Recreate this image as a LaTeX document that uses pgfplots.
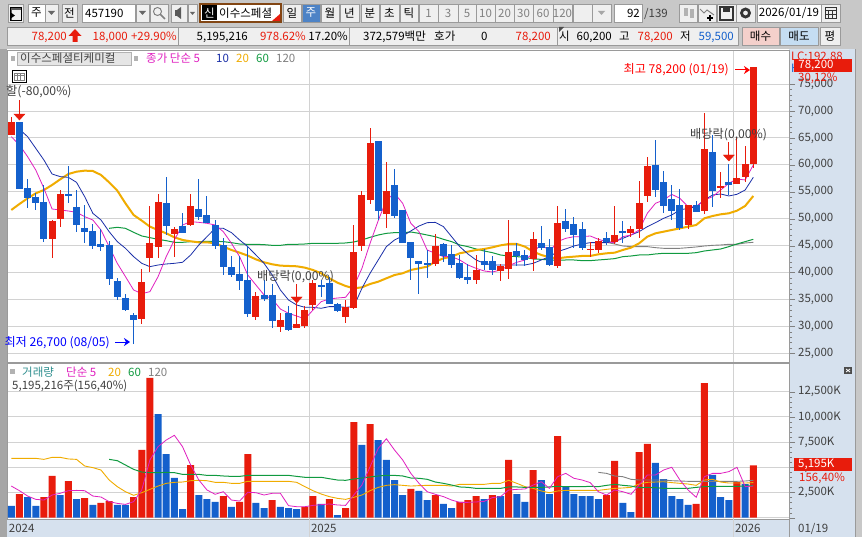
\documentclass[border=0pt]{standalone}
\usepackage{fontspec}
\setmainfont{Noto Sans CJK KR}
\usepackage{pgfplots}
\usepackage{pgfplotstable}
\pgfplotsset{compat=1.18}
\usetikzlibrary{arrows.meta}
\definecolor{cred}{HTML}{E81C0C}
\definecolor{cblue}{HTML}{1460CC}
\definecolor{cmag}{HTML}{E020C0}
\definecolor{cnavy}{HTML}{1A2FA8}
\definecolor{cgold}{HTML}{F0AC00}
\definecolor{cgreen}{HTML}{109A40}
\definecolor{cgray}{HTML}{808080}
\definecolor{pan}{HTML}{D6E1EE}
\definecolor{outer}{HTML}{C8C8C8}
\definecolor{gridc}{HTML}{D2D2D2}
\definecolor{btnb}{HTML}{9A9A9A}
\definecolor{btnf}{HTML}{EFEFEF}
\definecolor{tick}{HTML}{404040}
\newcommand{\ui}{\fontsize{11.5}{13}\selectfont}
\newcommand{\uia}{\fontsize{12.2}{13}\selectfont}
\newcommand{\Btn}[7]{\filldraw[fill=#5,draw=btnb,line width=.8pt] (#1,#3) rectangle (#2,#4);
  \node[font=\ui,text=#7,inner sep=0pt] at ({(#1+#2)/2},{(#3+#4)/2}) {#6};}
\newcommand{\T}[4]{\node[anchor=base west,inner sep=0pt,font=\ui,text=#3] at (#1,#2) {#4};}
\newcommand{\TR}[4]{\node[anchor=base east,inner sep=0pt,font=\ui,text=#3] at (#1,#2) {#4};}
\newcommand{\TA}[4]{\node[anchor=base west,inner sep=0pt,font=\uia,text=#3] at (#1,#2) {#4};}
\newcommand{\TAR}[4]{\node[anchor=base east,inner sep=0pt,font=\uia,text=#3] at (#1,#2) {#4};}

\pgfplotstableread{
i top bot hi lo
0 67960 65540 68820 65540
5 49575 46230 49760 42700
6 54590 49945 55330 48460
16 38245 31375 40660 30445
17 45490 42700 52360 40100
18 53100 44745 54590 42700
20 48090 47160 48460 42890
22 52360 48830 54590 48645
30 35645 31745 36390 31190
33 31190 29890 32490 28960
35 30445 29700 37875 29700
36 33045 30075 33790 29700
37 38060 33975 38615 33045
41 33600 31745 34900 30630
42 43815 33415 48830 33230
43 54400 44930 55145 44000
44 64060 53475 66845 52730
46 55145 50875 60530 48275
52 44930 41590 47160 41215
57 40475 38615 43260 37875
60 41215 40290 41590 38430
61 43815 40660 49760 38800
64 46230 42520 47530 40290
67 49200 41215 52360 40845
71 44375 44250 45675 42890
72 45860 44190 46415 43630
74 46975 45675 52360 45300
76 48090 47345 48645 46600
77 52915 48090 57000 46415
78 59785 54215 61460 53100
83 52545 48830 52545 48090
85 62945 51430 69630 50875
87 56075 55700 58675 53845
89 57560 56445 65170 56445
90 60160 57745 63500 56815
91 78200 60200 78200 59500
}\redc
\pgfplotstableread{
i top bot hi lo
1 67960 55520 67960 55520
2 55700 53845 57370 52050
3 54030 52920 54835 51615
4 53100 46230 56260 45675
7 54525 54215 59785 52920
8 52175 48830 55330 47530
9 48275 47530 52545 45490
10 47715 44930 49015 44375
11 45300 44745 48090 44000
12 45115 38800 45860 37690
13 38430 35460 38990 34900
14 35275 33045 36020 32860
15 32120 31190 32490 26700
19 52920 48645 57745 46975
21 48645 47345 51060 47345
23 51800 50315 57370 49760
24 50685 49200 54215 49200
25 48830 44930 49760 44375
26 45115 41030 46415 39545
27 41030 39545 43075 39175
28 39730 38430 43075 36760
29 38615 32300 44930 31745
31 35830 35090 38615 34715
32 35830 31000 37875 29700
34 32490 29330 33790 29145
38 37690 37315 38615 35460
39 38060 34160 39175 34160
40 34160 32860 34345 32675
45 64430 51430 64430 49760
47 56260 50500 59230 50130
48 51615 45490 51615 45490
49 45675 42700 45675 38615
50 42145 41590 42145 36020
51 41775 41400 44190 38990
53 45300 43075 45490 41960
54 43445 41400 45115 40845
55 41775 38990 43260 38800
56 39175 38615 41590 37875
58 42145 41400 44375 40475
59 42145 40475 43075 39545
62 44000 43075 45490 41215
63 43260 42330 44190 41215
65 45490 44560 48645 44190
66 44745 41400 46230 41215
68 49575 48090 51800 47530
69 49015 46975 50315 44560
70 48090 44560 49390 44190
73 46415 45675 47530 45115
75 47715 47345 49575 45490
79 59970 55330 64615 54030
80 56815 52360 58860 51060
81 53660 51430 56260 49760
82 52545 48275 55515 47900
84 52545 51245 53285 51245
86 62385 55145 65545 52175
88 56815 56260 60160 54400
}\bluec

\pgfplotsset{candle/.style={draw=none,mark=none,forget plot,
  error bars/.cd,y dir=plus,y explicit,error mark=none,
  error bar style={color=#1}}}
\begin{document}
\begin{tikzpicture}
\path[use as bounding box] (0pt,0pt) rectangle (862pt,-537pt);
\begin{scope}[x=1pt,y=-1pt]
\fill[outer] (0,0) rectangle (862,537);
\fill[gray!70] (0,49) rectangle (7,537);
% toolbar row 1
\Btn{8}{23}{4}{22}{btnf}{}{black}
\fill[gray!70!black] (10,7) rectangle (21,10); \fill[gray!70!black] (10,7) rectangle (12,20); \fill[black] (10,12) -- (15,15.5) -- (10,19) -- cycle; \draw (10,7) rectangle (21,20);
\Btn{28}{45}{4}{22}{white}{주}{black}
\Btn{45}{58}{4}{22}{btnf}{}{black}\fill[gray!80!black] (48,11)--(55,11)--(51.5,15)--cycle;
\Btn{62}{77}{4}{22}{btnf}{전}{black}
\Btn{82}{135}{4}{22}{white}{}{black}\T{85}{18}{black}{457190}
\Btn{136}{149}{4}{22}{btnf}{}{black}\fill[gray!80!black] (139,11)--(146,11)--(142.5,15)--cycle;
\Btn{150}{168}{4}{22}{btnf}{}{black}\draw[gray,line width=1pt] (157.5,11.5) circle (4); \draw[gray,line width=1.6pt] (160.5,14.5)--(165,19);
\Btn{171}{187}{4}{22}{btnf}{}{black}\fill[gray!70!black] (175,10) rectangle (178,16); \fill[gray!70!black] (177,10)--(181,7)--(181,19)--(177,16)--cycle;
\Btn{188}{197}{4}{22}{btnf}{}{black}\fill[gray!80!black] (190,12)--(195,12)--(192.5,15)--cycle;
\filldraw[fill=white,draw={rgb,255:red,130;green,70;blue,20},line width=1.8pt] (200,4) rectangle (281,22);
\fill[black] (202,5.5) rectangle (217,20.5);
\node[font=\ui,text=white,inner sep=0pt] at (209.5,13) {신};
\T{219}{18}{black}{이수스페셜}
\fill[cred] (280,14)--(280,21)--(272,21)--cycle;
\Btn{283}{301}{4}{22}{btnf}{일}{black}
\Btn{302}{320}{4}{22}{{rgb,255:red,77;green,131;blue,198}}{주}{white}
\Btn{321}{339}{4}{22}{btnf}{월}{black}
\Btn{340}{359}{4}{22}{btnf}{년}{black}
\Btn{361}{379}{4}{22}{btnf}{분}{black}
\Btn{380}{399}{4}{22}{btnf}{초}{black}
\Btn{400}{418}{4}{22}{btnf}{틱}{black}
\Btn{419}{438}{4}{22}{btnf}{1}{gray}
\Btn{438}{458}{4}{22}{btnf}{3}{gray}
\Btn{458}{476}{4}{22}{btnf}{5}{gray}
\Btn{476}{495}{4}{22}{btnf}{10}{gray}
\Btn{495}{514}{4}{22}{btnf}{20}{gray}
\Btn{514}{533}{4}{22}{btnf}{30}{gray}
\Btn{533}{553}{4}{22}{btnf}{60}{gray}
\Btn{553}{572}{4}{22}{btnf}{120}{gray}
\Btn{573}{592}{4}{22}{btnf}{}{gray}
\Btn{592}{611}{4}{22}{btnf}{}{gray}\fill[gray!70] (598,11)--(605,11)--(601.5,15)--cycle;
\Btn{614}{642}{4}{22}{white}{}{black}\TR{640}{18}{black}{92}
\T{644}{18}{tick}{/139}
\Btn{679}{697}{4}{22}{btnf}{}{black}\fill[gray!60] (684,8) rectangle (688,16); \fill[gray!60] (690,9) rectangle (694,18);
\Btn{698}{716}{4}{22}{btnf}{}{black}\draw[gray,line width=1pt] (700,9)--(704,13)--(707,10)--(714,15); \draw[black,line width=1.4pt] (710,15)--(710,21) (707,18)--(713,18);
\Btn{717}{736}{4}{22}{btnf}{}{black}\draw[gray!40!black,line width=1.5pt] (720,7) rectangle (733,20); \fill[gray!40!black] (723,7) rectangle (730,12);
\Btn{736}{755}{4}{22}{btnf}{}{black}\draw[gray!40!black,line width=2.8pt] (745.5,13) circle (4);
\Btn{757}{821}{4}{22}{white}{2026/01/19}{black}
\Btn{821}{840}{4}{22}{btnf}{}{black}\draw[gray!40!black,line width=1pt] (825,8) rectangle (836,19) (825,11)--(836,11) (825,14.5)--(836,14.5) (828.5,11)--(828.5,19) (832,11)--(832,19);
% toolbar row 2
\filldraw[fill=btnf,draw=btnb] (7,27) rectangle (178,45);
\filldraw[fill=btnf,draw=btnb] (178,27) rectangle (349,45);
\filldraw[fill=btnf,draw=btnb] (349,27) rectangle (557,45);
\filldraw[fill=btnf,draw=btnb] (557,27) rectangle (738,45);
\fill[black!70] (559,27)--(564,27)--(559,32)--cycle;
\TR{67}{41}{cred}{78,200}
\fill[cred] (75,29)--(81.5,36)--(77.5,36)--(77.5,42)--(72.5,42)--(72.5,36)--(68.5,36)--cycle;
\TR{128}{41}{cred}{18,000}
\TR{177}{41}{cred}{+29.90\%}
\TR{248}{41}{black}{5,195,216}
\TR{306}{41}{cred}{978.62\%}
\TR{348}{41}{black}{17.20\%}
\T{363}{41}{black}{372,579백만}
\T{434}{41}{black}{호가}
\T{481}{41}{black}{0}
\TR{551}{41}{cred}{78,200}
\T{559}{41}{black}{시}
\TR{612}{41}{black}{60,200}
\T{619}{41}{black}{고}
\TR{673}{41}{cred}{78,200}
\T{680}{41}{black}{저}
\TR{734}{41}{cblue}{59,500}
\Btn{742}{779}{27}{45}{{rgb,255:red,244;green,208;blue,203}}{매수}{black}
\Btn{780}{818}{27}{45}{{rgb,255:red,197;green,221;blue,242}}{매도}{black}
\Btn{820}{840}{27}{45}{btnf}{평}{black}
% panels
\fill[white] (7,49.5) rectangle (789,519);
\fill[pan] (789,49.5) rectangle (855,537);
\fill[pan] (7,519) rectangle (789,537);
\end{scope}

% price panel
\begin{axis}[at={(7pt,-362pt)},anchor=south west,scale only axis,width=782pt,height=312pt,
  xmin=-0.527,xmax=95.378,ymin=23384,ymax=81330,
  axis line style={color=btnb},
  xtick={36.55,88.55},xticklabels={},xtick style={draw=none},
  ytick={25000,30000,...,75000},minor y tick num=4,
  ytick pos=right,yticklabel pos=right,tick align=outside,
  major tick length=6pt,minor tick length=3pt,
  ytick style={color=cgray},minor tick style={color=cgray},
  xmajorgrids,ymajorgrids,grid style={color=gridc,line width=1pt},
  scaled ticks=false,
  xtick scale label code/.code={},ytick scale label code/.code={},
  yticklabel style={font=\ui,text=tick,inner sep=0pt,xshift=3pt,
    /pgf/number format/.cd,fixed,1000 sep={,},assume math mode=true},
  clip=true]
\addplot[cgray,line width=.9pt,forget plot] coordinates {(73,45610)(74,45300)(75,44930)(76,44810)(77,44810)(78,44810)(79,44620)(80,44500)(81,44500)(82,44500)(83,44620)(84,44750)(85,44930)(86,45050)(87,45120)(88,45240)(89,45240)(90,45490)(91,45610)};
\addplot[cgreen,line width=1pt,forget plot] coordinates {(12,48210)(13,48400)(14,48210)(15,47470)(16,46790)(17,46480)(18,46170)(19,45920)(20,45610)(21,45610)(22,45740)(23,45740)(24,45800)(25,45800)(26,45740)(27,45550)(28,45300)(29,45240)(30,45240)(31,45180)(32,45050)(33,45050)(34,45240)(35,45240)(36,45300)(37,45430)(38,45430)(39,45430)(40,45430)(41,45490)(42,45670)(43,46050)(44,46540)(45,46970)(46,47280)(47,47410)(48,47410)(49,47530)(50,47280)(51,46970)(52,46660)(53,46170)(54,45740)(55,45120)(56,44810)(57,44370)(58,44000)(59,43690)(60,43260)(61,43070)(62,42950)(63,42830)(64,42520)(65,42450)(66,42330)(67,42270)(68,42330)(69,42330)(70,42210)(71,42210)(72,42330)(73,42450)(74,42580)(75,42950)(76,43070)(77,43260)(78,43260)(79,43450)(80,43570)(81,43570)(82,43570)(83,43570)(84,43690)(85,44000)(86,44190)(87,44370)(88,44810)(89,45300)(90,45740)(91,46170)};
\addplot[cgold,line width=2pt,forget plot] coordinates {(0,51620)(1,52730)(2,53780)(3,54710)(4,55330)(5,56260)(6,57310)(7,58300)(8,58730)(9,58920)(10,58860)(11,58120)(12,56750)(13,55210)(14,52850)(15,50690)(16,49640)(17,48520)(18,47900)(19,47280)(20,46540)(21,46050)(22,45800)(23,45610)(24,45610)(25,45430)(26,44810)(27,44190)(28,43690)(29,43140)(30,42450)(31,41900)(32,41530)(33,41280)(34,41220)(35,41160)(36,40910)(37,40470)(38,39860)(39,38930)(40,38120)(41,37500)(42,37070)(43,37250)(44,37870)(45,38300)(46,38930)(47,39540)(48,39860)(49,40470)(50,40780)(51,41090)(52,42020)(53,42640)(54,42950)(55,43570)(56,43880)(57,44190)(58,44370)(59,44680)(60,45050)(61,45300)(62,45300)(63,44810)(64,43880)(65,43260)(66,42830)(67,42640)(68,42830)(69,42950)(70,43080)(71,43080)(72,43380)(73,43570)(74,43690)(75,44190)(76,44620)(77,45430)(78,46660)(79,47280)(80,47590)(81,47900)(82,48210)(83,48520)(84,48830)(85,50070)(86,50500)(87,50810)(88,51000)(89,51490)(90,52360)(91,54220)};
\addplot[cnavy,line width=.8pt,forget plot] coordinates {(1,66600)(2,65230)(3,63070)(4,60900)(5,58300)(6,57810)(7,57680)(8,56750)(9,54090)(10,51000)(11,49760)(12,47590)(13,45740)(14,44500)(15,42950)(16,41710)(17,41090)(18,41400)(19,41590)(20,41710)(21,41900)(22,43260)(23,45120)(24,46660)(25,48210)(26,48210)(27,47410)(28,46050)(29,44810)(30,43260)(31,41710)(32,39540)(33,36760)(34,34900)(35,33970)(36,33540)(37,33540)(38,33360)(39,33670)(40,33670)(41,33540)(42,33670)(43,37070)(44,39860)(45,42330)(46,44810)(47,46050)(48,46790)(49,47720)(50,48640)(51,49260)(52,49320)(53,48520)(54,46660)(55,44810)(56,43450)(57,42330)(58,41710)(59,41400)(60,41400)(61,41400)(62,41400)(63,41400)(64,41710)(65,42330)(66,42950)(67,43880)(68,44370)(69,44930)(70,45300)(71,45550)(72,45550)(73,45550)(74,45740)(75,46350)(76,46970)(77,47590)(78,48520)(79,49260)(80,50070)(81,50690)(82,51620)(83,51930)(84,52230)(85,53470)(86,54400)(87,54590)(88,54220)(89,54530)(90,55330)(91,57680)};
\addplot[cmag,line width=.8pt,forget plot] coordinates {(0,65230)(1,63690)(2,61520)(3,59040)(4,55640)(5,51800)(6,51620)(7,51430)(8,51180)(9,50380)(10,49760)(11,47900)(12,44810)(13,41710)(14,39240)(15,36760)(16,36080)(17,36450)(18,39240)(19,42950)(20,46050)(21,48830)(22,49450)(23,49320)(24,49140)(25,48830)(26,47590)(27,45430)(28,42950)(29,39550)(30,37690)(31,35830)(32,35090)(33,33230)(34,32430)(35,31930)(36,31370)(37,33040)(38,34590)(39,35090)(40,35270)(41,35400)(42,37380)(43,40780)(44,45430)(45,49640)(46,53470)(47,54710)(48,52850)(49,49140)(50,47590)(51,44190)(52,43570)(53,42950)(54,42950)(55,42330)(56,41400)(57,40780)(58,40290)(59,40100)(60,40470)(61,41280)(62,41900)(63,42330)(64,43570)(65,45430)(66,43880)(67,45740)(68,46350)(69,46660)(70,46660)(71,46790)(72,46170)(73,45740)(74,45550)(75,46660)(76,46970)(77,47900)(78,51000)(79,52850)(80,53470)(81,54520)(82,53780)(83,52230)(84,52230)(85,53470)(86,54090)(87,55330)(88,56570)(89,57370)(90,57190)(91,59970)};
% wicks and bodies
\addplot[candle={cred,line width=1pt}] table[x=i,y=lo,y error plus expr=\thisrow{hi}-\thisrow{lo}] {\redc};
\addplot[candle={cblue,line width=1pt}] table[x=i,y=lo,y error plus expr=\thisrow{hi}-\thisrow{lo}] {\bluec};
\addplot[candle={cred,line width=7pt}] table[x=i,y=bot,y error plus expr=\thisrow{top}-\thisrow{bot}] {\redc};
\addplot[candle={cblue,line width=7pt}] table[x=i,y=bot,y error plus expr=\thisrow{top}-\thisrow{bot}] {\bluec};
% event arrows
\addplot[cred,line width=1pt,forget plot] coordinates {(1,72043)(1,69443)};
\addplot[cred,line width=1pt,forget plot] coordinates {(35,37875)(35,35270)};
\addplot[cred,line width=1pt,forget plot] coordinates {(88,64240)(88,61640)};
\addplot[only marks,mark=triangle*,mark size=5pt,color=cred,mark options={xscale=1.27,yscale=-0.8},forget plot] coordinates {(1,69070)(35,35090)(88,61460)};
\end{axis}

% volume panel
\begin{axis}[at={(7pt,-519pt)},anchor=south west,scale only axis,width=782pt,height=156pt,
  xmin=-0.527,xmax=95.378,ymin=-132,ymax=15359,
  axis line style={color=btnb},
  xtick={-0.5,36.55,88.55},xticklabels={2024,2025,2026},xtick style={draw=none},
  xticklabel style={font=\ui,text=tick,anchor=north west,inner sep=0pt,xshift=1.5pt,yshift=1pt},
  scaled ticks=false,
  xtick scale label code/.code={},ytick scale label code/.code={},
  ytick={0,2500,5000,7500,10000,12500},
  yticklabels={,{2,500K},{5,000K},{7,500K},{10,000K},{12,500K}},
  minor y tick num=4,
  ytick pos=right,yticklabel pos=right,tick align=outside,
  major tick length=6pt,minor tick length=3pt,
  ytick style={color=cgray},minor tick style={color=cgray},
  xmajorgrids,ymajorgrids,grid style={color=gridc,line width=1pt},
  yticklabel style={font=\ui,text=tick,inner sep=0pt,xshift=3pt},
  ybar,bar width=7pt,bar shift=0pt,clip=true]
\addplot[fill=cred,draw=none,forget plot] coordinates {(1,2350)(4,2050)(5,4140)(7,3640)(9,1950)(11,1460)(12,1650)(15,2050)(16,6720)(17,13870)(22,5230)(26,2150)(28,1560)(29,6320)(32,1750)(36,1060)(37,2150)(39,1850)(41,960)(42,9500)(44,9300)(49,2850)(52,2250)(55,1560)(56,1750)(57,2150)(59,2250)(61,5730)(64,4730)(67,8110)(73,2250)(74,5630)(77,6520)(78,7320)(84,1360)(85,13370)(89,3540)(91,5195)};
\addplot[fill=cblue,draw=none,forget plot] coordinates {(0,1160)(2,2050)(3,1160)(6,2250)(8,1850)(10,1260)(13,1260)(14,1260)(18,10290)(19,6320)(20,3940)(21,860)(23,2250)(24,1850)(25,1560)(27,1060)(30,1460)(31,960)(33,1060)(34,960)(35,860)(38,1360)(40,260)(43,7220)(45,7710)(46,5730)(47,3740)(48,2250)(50,2650)(51,1750)(53,1360)(54,960)(58,1850)(60,2150)(62,2350)(63,1560)(65,3740)(66,2350)(68,3050)(69,2350)(70,2150)(71,2150)(72,1850)(75,1460)(76,560)(79,5430)(80,3840)(81,2150)(82,1850)(83,1260)(86,4240)(87,2050)(88,1750)(90,3340)};
\addplot[sharp plot,cgray,line width=.9pt,forget plot] coordinates {(72,4500)(73,4400)(74,4140)(75,4070)(76,3810)(77,3740)(78,3740)(79,3740)(80,3740)(81,3670)(82,3640)(83,3610)(84,3610)(85,3610)(86,3610)(87,3610)(88,3610)(89,3610)(90,3640)(91,3710)};
\addplot[sharp plot,cgold,line width=.9pt,forget plot] coordinates {(0,5890)(1,5890)(2,5890)(3,5890)(4,5790)(5,5990)(6,5990)(7,5830)(8,5790)(9,5130)(10,4970)(11,4730)(12,3740)(13,3080)(14,2580)(15,2220)(16,2480)(17,2810)(18,3140)(19,3410)(20,3510)(21,3540)(22,3670)(23,3710)(24,3670)(25,3510)(26,3510)(27,3410)(28,3410)(29,3610)(30,3610)(31,3610)(32,3610)(33,3610)(34,3610)(35,3510)(36,3080)(37,2680)(38,2350)(39,2090)(40,1920)(41,1820)(42,2020)(43,2250)(44,2680)(45,3010)(46,3210)(47,3280)(48,3210)(49,3140)(50,3180)(51,3210)(52,3210)(53,3210)(54,3140)(55,3310)(56,3310)(57,3310)(58,3310)(59,3410)(60,3410)(61,3710)(62,3410)(63,3080)(64,2910)(65,2650)(66,2480)(67,2650)(68,2710)(69,2710)(70,2710)(71,2710)(72,2710)(73,2810)(74,2910)(75,2950)(76,3010)(77,3340)(78,3510)(79,3540)(80,3570)(81,3480)(82,3410)(83,3340)(84,3210)(85,3740)(86,3810)(87,3540)(88,3440)(89,3440)(90,3440)(91,3480)};
\addplot[sharp plot,cgreen,line width=1pt,forget plot] coordinates {(12,5790)(13,5660)(14,5230)(15,4800)(16,4530)(17,4470)(18,4470)(19,4500)(20,4470)(21,4300)(22,4300)(23,4300)(24,4200)(25,4200)(26,4140)(27,4100)(28,4100)(29,4200)(30,4200)(31,4200)(32,4200)(33,4200)(34,4200)(35,4100)(36,4010)(37,4010)(38,4010)(39,3870)(40,3740)(41,3710)(42,3840)(43,3940)(44,4040)(45,4140)(46,4200)(47,4200)(48,4140)(49,3940)(50,3910)(51,3810)(52,3540)(53,3410)(54,3240)(55,3050)(56,3010)(57,2910)(58,2910)(59,2910)(60,2910)(61,3050)(62,3050)(63,3010)(64,3010)(65,3010)(66,3050)(67,3110)(68,3080)(69,3080)(70,3080)(71,3110)(72,3080)(73,3210)(74,3310)(75,3210)(76,3140)(77,2980)(78,3010)(79,2980)(80,2910)(81,2910)(82,2910)(83,2910)(84,3010)(85,3080)(86,3110)(87,3110)(88,3110)(89,3110)(90,3140)(91,3180)};
\addplot[sharp plot,cmag,line width=.8pt,forget plot] coordinates {(0,3140)(1,2680)(2,2150)(3,1820)(4,1750)(5,2250)(6,2420)(7,2680)(8,2710)(9,2680)(10,2150)(11,2050)(12,1590)(13,1420)(14,1320)(15,1590)(16,2750)(17,5730)(18,7050)(19,7710)(20,8180)(21,7050)(22,5230)(23,3740)(24,2750)(25,2320)(26,2580)(27,1750)(28,1650)(29,2520)(30,2480)(31,2250)(32,2420)(33,2420)(34,1190)(35,1090)(36,1090)(37,1220)(38,1290)(39,1360)(40,1260)(41,1220)(42,2250)(43,3240)(44,5060)(45,6880)(46,7840)(47,6720)(48,5730)(49,4400)(50,3410)(51,2580)(52,2320)(53,2090)(54,1750)(55,1520)(56,1520)(57,1560)(58,1620)(59,1990)(60,2090)(61,2750)(62,2810)(63,2850)(64,3240)(65,3570)(66,2910)(67,4070)(68,4400)(69,3910)(70,3740)(71,3480)(72,2580)(73,2250)(74,2750)(75,2580)(76,2320)(77,3240)(78,4240)(79,4240)(80,4730)(81,5000)(82,3740)(83,2750)(84,2020)(85,4070)(86,4400)(87,4400)(88,4570)(89,5000)(90,3080)(91,3140)};
\end{axis}

% overlay labels
\begin{scope}[x=1pt,y=-1pt]
\draw[gridc,line width=1pt] (309.3,519)--(309.3,537) (733.3,519)--(733.3,537);
\draw[btnb,line width=1pt] (789,519)--(789,537) (855,49.5)--(855,537);
\T{798}{532}{tick}{01/19}
% legend price
\fill[gray!60] (11,56) rectangle (15,61);
\filldraw[fill=gray!20,draw=gray!60] (17,52) rectangle (131,65);
\node[anchor=base west,inner sep=0pt,font=\ui,text=tick] at (20,63) {이수스페셜티케미컬};
\fill[gray!60] (134,56) rectangle (138,61);
\T{146}{63}{cmag}{종가 단순 5}
\T{216}{63}{cnavy}{10}
\T{236}{63}{cgold}{20}
\T{256}{63}{cgreen}{60}
\T{276}{63}{cgray}{120}
\filldraw[fill=white,draw=black,line width=.8pt] (12,70) rectangle (26,82);
\draw[gray,line width=.5pt] (14,73) rectangle (24,80) (14,75.5)--(24,75.5) (17.3,73)--(17.3,80) (20.6,73)--(20.6,80);
\TA{6}{96}{tick}{할(-80,00\%)}
\TA{257}{281}{tick}{배당락(0,00\%)}
\TA{690}{139}{tick}{배당락(0,00\%)}
\TAR{729}{73.5}{red}{최고 78,200 (01/19)}
\draw[red,line width=1pt,-{Stealth[length=6pt,width=8pt]}] (735,70)--(750,70);
\TAR{110}{346}{blue}{최저 26,700 (08/05)}
\draw[blue,line width=1pt,-{Stealth[length=6pt,width=8pt]}] (115,342)--(130,342);
% legend volume
\fill[gray!60] (10,369) rectangle (15,374);
\T{22}{376.5}{{rgb,255:red,47;green,143;blue,143}}{거래량}
\T{66}{376.5}{cmag}{단순 5}
\T{108}{376.5}{cgold}{20}
\T{128}{376.5}{cgreen}{60}
\T{148}{376.5}{cgray}{120}
\T{12}{389.5}{tick}{5,195,216주(156,40\%)}
% right panel
\T{791}{61}{cred}{LC:192,88}
\T{791}{73}{cblue}{H}
\fill[cred] (794,59) rectangle (852,72);
\node[font=\ui,text=white,inner sep=0pt] at (816,65.5) {78,200};
\T{798}{81.5}{cred}{30,12\%}
\fill[cred] (794,458) rectangle (852,471);
\node[font=\ui,text=white,inner sep=0pt,anchor=west] at (798,464.5) {5,195K};
\T{799}{481.5}{cred}{156,40\%}
\fill[black!70] (844,367) rectangle (852,374);
\draw[white,line width=.8pt] (846,369)--(850,372) (846,372)--(850,369);
\end{scope}
\end{tikzpicture}
\end{document}
